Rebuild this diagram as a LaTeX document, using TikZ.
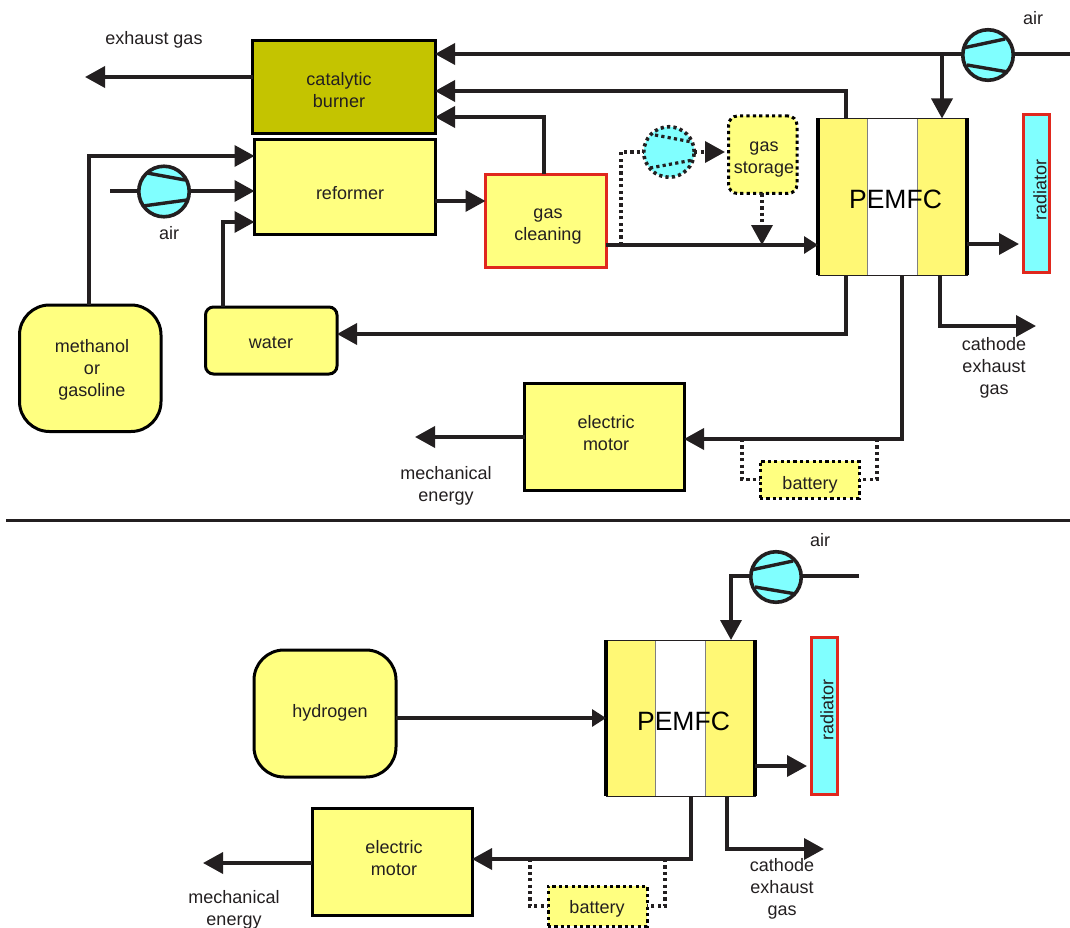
\documentclass[tikz,border=0pt]{standalone}
\usepackage{fontspec}
\setmainfont{Liberation Sans}
\usetikzlibrary{arrows.meta,calc}
\definecolor{ink}{HTML}{231F20}
\definecolor{boxyel}{HTML}{FFFF80}
\definecolor{bandyel}{HTML}{FFF875}
\definecolor{olive}{HTML}{C4C400}
\definecolor{cy}{HTML}{80FFFF}
\definecolor{redb}{HTML}{E0281E}
\tikzset{
 box/.style={draw=black,line width=3pt,fill=boxyel,inner sep=0pt,outer sep=0pt},
 roundbox/.style={box,rounded corners=#1},
 redbox/.style={box,draw=redb},
 dotbox/.style={box,dash pattern=on 3.2pt off 3.2pt},
 lbl/.style={text=ink,align=center,font=\fontsize{18}{22}\selectfont,inner sep=0pt},
 celllbl/.style={text=black,inner sep=0pt,font=\fontsize{26.5}{30}\selectfont},
 conn/.style={draw=ink,line width=3.6pt},
 arr/.style={conn,-{Triangle[length=20pt,width=21pt]}},
 thinarr/.style={draw=ink,line width=3.2pt,-{Triangle[length=14pt,width=17pt]}},
 dotconn/.style={draw=ink,line width=3.4pt,dash pattern=on 3.2pt off 3.2pt},
 comp/.style={circle,draw=ink,line width=3.6pt,fill=cy,minimum size=50.5pt,inner sep=0pt,outer sep=0pt},
 dotcomp/.style={comp,dash pattern=on 3.2pt off 3.2pt},
 blade/.style={draw=ink,line width=3.4pt},
 dotblade/.style={draw=ink,line width=3.2pt,dash pattern=on 3.2pt off 3.2pt},
 band/.style={draw=gray,line width=1pt,fill=bandyel},
 fuelcell/.style={draw=ink,line width=1pt,inner sep=0pt,outer sep=0pt},
 cellside/.style={draw=black,line width=3.5pt},
 sep/.style={draw=ink,line width=3pt},
}
% optional style, name, x1,y1,x2,y2, text x, text y, text
\newcommand\bx[9][box]{%
 \pgfmathsetmacro\bxw{#5-#3}\pgfmathsetmacro\bxh{#6-#4}%
 \pgfmathsetmacro\bxx{(#3+#5)/2}\pgfmathsetmacro\bxy{(#4+#6)/2}%
 \node[#1,minimum width=\bxw pt,minimum height=\bxh pt] (#2) at (\bxx,\bxy) {};
 \node[lbl] (#2-t) at (#7,#8) {#9};
}
% name, x1,y1,x2,y2
\newcommand\cell[5]{%
 \pgfmathsetmacro\cw{(#4-#2)/3}%
 \fill[white] (#2,#3) rectangle (#4,#5);
 \draw[band] (#2,#3) rectangle ({#2+\cw},#5);
 \draw[band] ({#4-\cw},#3) rectangle (#4,#5);
 \pgfmathsetmacro\bxw{#4-#2}\pgfmathsetmacro\bxh{#5-#3}%
 \pgfmathsetmacro\bxx{(#2+#4)/2}\pgfmathsetmacro\bxy{(#3+#5)/2}%
 \node[fuelcell,minimum width=\bxw pt,minimum height=\bxh pt] (#1) at (\bxx,\bxy) {};
 \node[celllbl] (#1-t) at ($(#1.center)+(3,3)$) {PEMFC};
 \draw[cellside] (#1.north west) -- (#1.south west);
 \draw[cellside] (#1.north east) -- (#1.south east);
}
\begin{document}
\begin{tikzpicture}[x=1pt,y=-1pt]
\useasboundingbox (0,0) rectangle (1070,928);
% upper system boxes
\bx[box,fill=olive]{burner}{252.5}{40.5}{435}{134}{339}{90}{catalytic\\burner}
\bx{reformer}{254.5}{140}{435}{234}{350}{193}{reformer}
\bx[redbox]{clean}{485.5}{174.5}{606}{267.5}{548}{227}{gas\\cleaning}
\bx[roundbox=30pt]{fuel}{19.5}{305}{161}{431.5}{92}{370}{methanol\\or\\gasoline}
\bx[roundbox=8pt]{water}{205.5}{307}{337}{374}{271}{343}{water}
\bx{motor}{524.5}{383}{684}{490.5}{606}{433}{electric\\motor}
\bx[dotbox]{batt}{760}{461}{859}{498}{810}{485}{battery}
\bx[dotbox,rounded corners=9pt]{store}{728.5}{116}{797}{193.5}{764}{160}{gas\\storage}
\bx[redbox,fill=cy]{rad}{1023.5}{115}{1049}{272}{1040}{190}{\rotatebox{90}{radiator}}
\cell{cell}{818}{118.5}{967}{275}
% compressors
\node[comp] (c1) at (988,55) {};
\draw[blade] (963,48) -- (1005,39) (967,65) -- (1008,72);
\node[comp] (c2) at (164,191.5) {};
\draw[blade] (147,173) -- (185,180) (143,206) -- (187,200);
\node[dotcomp] (c3) at (669,152) {};
\draw[dotblade] (655,135) -- (692,142) (650,168) -- (693,160);
% labels
\node[lbl] (exh) at (154,40) {exhaust gas};
\node[lbl] (air1) at (1033,18) {air};
\node[lbl] (air2) at (169,233) {air};
\node[lbl] (mech1) at (446,486) {mechanical\\energy};
\node[lbl] (cath1) at (994,368) {cathode\\exhaust\\gas};
% upper connectors
\coordinate (airE) at (1070,54);
\coordinate (airTap) at (942,54);
\coordinate (exOut) at (85,77);
\coordinate (bend1) at (846,91);
\coordinate (bend2) at (544,117);
\coordinate (bend3) at (89,156);
\coordinate (airS) at (110,191);
\coordinate (bend4) at (223,222);
\coordinate (bend5) at (621,152);
\coordinate (tee1) at (621,245);
\coordinate (tee2) at (762,245);
\coordinate (bend6) at (846,334);
\coordinate (bend7) at (902,439);
\coordinate (bend8) at (940,326);
\coordinate (cathEnd) at (1036,326);
\coordinate (mechEnd) at (415,437);
\coordinate (bt1) at (742,439);
\coordinate (bt2) at (877,439);
\draw[conn] (airE) -- (c1.east |- airE);
\draw[arr] (c1.west |- airE) -- (burner.east |- airE);
\draw[arr] (airTap) -- (cell.north -| airTap);
\draw[conn] (burner.west |- exOut) -- (170,77);
\draw[arr] (170,77) -- (exOut);
\draw[arr] (cell.north -| bend1) -- (bend1) -- (burner.east |- bend1);
\draw[arr] (clean.north -| bend2) -- (bend2) -- (burner.east |- bend2);
\draw[arr] (fuel.north -| bend3) -- (bend3) -- (reformer.west |- bend3);
\draw[conn] (airS) -- (c2.west |- airS);
\draw[arr] (c2.east |- airS) -- (reformer.west |- airS);
\draw[arr] (water.north -| bend4) -- (bend4) -- (reformer.west |- bend4);
\draw[arr] (reformer.east |- 0,201) -- (clean.west |- 0,201);
\draw[thinarr] (clean.east |- tee1) -- (cell.west |- tee1);
\draw[dotconn] (tee1) -- (bend5) -- (c3.west |- bend5);
\draw[dotconn] (c3.east |- bend5) -- (705,152);
\draw[arr] (705,152) -- (725,152);
\draw[dotconn] (store.south -| tee2) -- (762,225);
\draw[arr] (762,225) -- (tee2);
\draw[arr] (cell.east |- 0,244) -- (1019,244);
\draw[arr] (cell.south -| bend6) -- (bend6) -- (water.east |- bend6);
\draw[arr] (cell.south -| bend7) -- (bend7) -- (motor.east |- bend7);
\draw[arr] (cell.south -| bend8) -- (bend8) -- (cathEnd);
\draw[arr] (motor.west |- mechEnd) -- (mechEnd);
\draw[dotconn] (bt1) -- (bt1 |- batt.west) -- (batt.west);
\draw[dotconn] (bt2) -- (bt2 |- batt.east) -- (batt.east);
% separator
\coordinate (sepL) at (6,520);
\coordinate (sepR) at (1070,520);
\draw[sep] (sepL) -- (sepR);
% lower system boxes
\bx[roundbox=30pt]{hyd}{254}{650}{396}{777}{330}{713}{hydrogen}
\bx{motorB}{312}{808}{472}{915}{394}{858}{electric\\motor}
\bx[dotbox]{battB}{548}{886}{647}{926}{597}{909}{battery}
\bx[redbox,fill=cy]{radB}{811}{637}{837}{794}{827}{710}{\rotatebox{90}{radiator}}
\cell{cellB}{606}{640}{755}{796}
\node[comp] (c4) at (776,577) {};
\draw[blade] (751,570) -- (793,561) (755,587) -- (796,594);
\node[lbl] (air3) at (820,540) {air};
\node[lbl] (mech2) at (234,910) {mechanical\\energy};
\node[lbl] (cath2) at (782,889) {cathode\\exhaust\\gas};
% lower connectors
\coordinate (airBE) at (859,576);
\coordinate (bendB1) at (731,576);
\coordinate (bendB2) at (691,859);
\coordinate (bendB3) at (727,849);
\coordinate (cathBEnd) at (824,849);
\coordinate (mechBEnd) at (203,863);
\coordinate (btB1) at (530,859);
\coordinate (btB2) at (665,859);
\draw[conn] (airBE) -- (c4.east |- airBE);
\draw[arr] (c4.west |- airBE) -- (bendB1) -- (cellB.north -| bendB1);
\draw[thinarr] (hyd.east |- 0,718) -- (cellB.west |- 0,718);
\draw[arr] (cellB.east |- 0,766) -- (807,766);
\draw[arr] (cellB.south -| bendB2) -- (bendB2) -- (motorB.east |- bendB2);
\draw[arr] (cellB.south -| bendB3) -- (bendB3) -- (cathBEnd);
\draw[arr] (motorB.west |- mechBEnd) -- (mechBEnd);
\draw[dotconn] (btB1) -- (btB1 |- battB.west) -- (battB.west);
\draw[dotconn] (btB2) -- (btB2 |- battB.east) -- (battB.east);
\end{tikzpicture}
\end{document}
